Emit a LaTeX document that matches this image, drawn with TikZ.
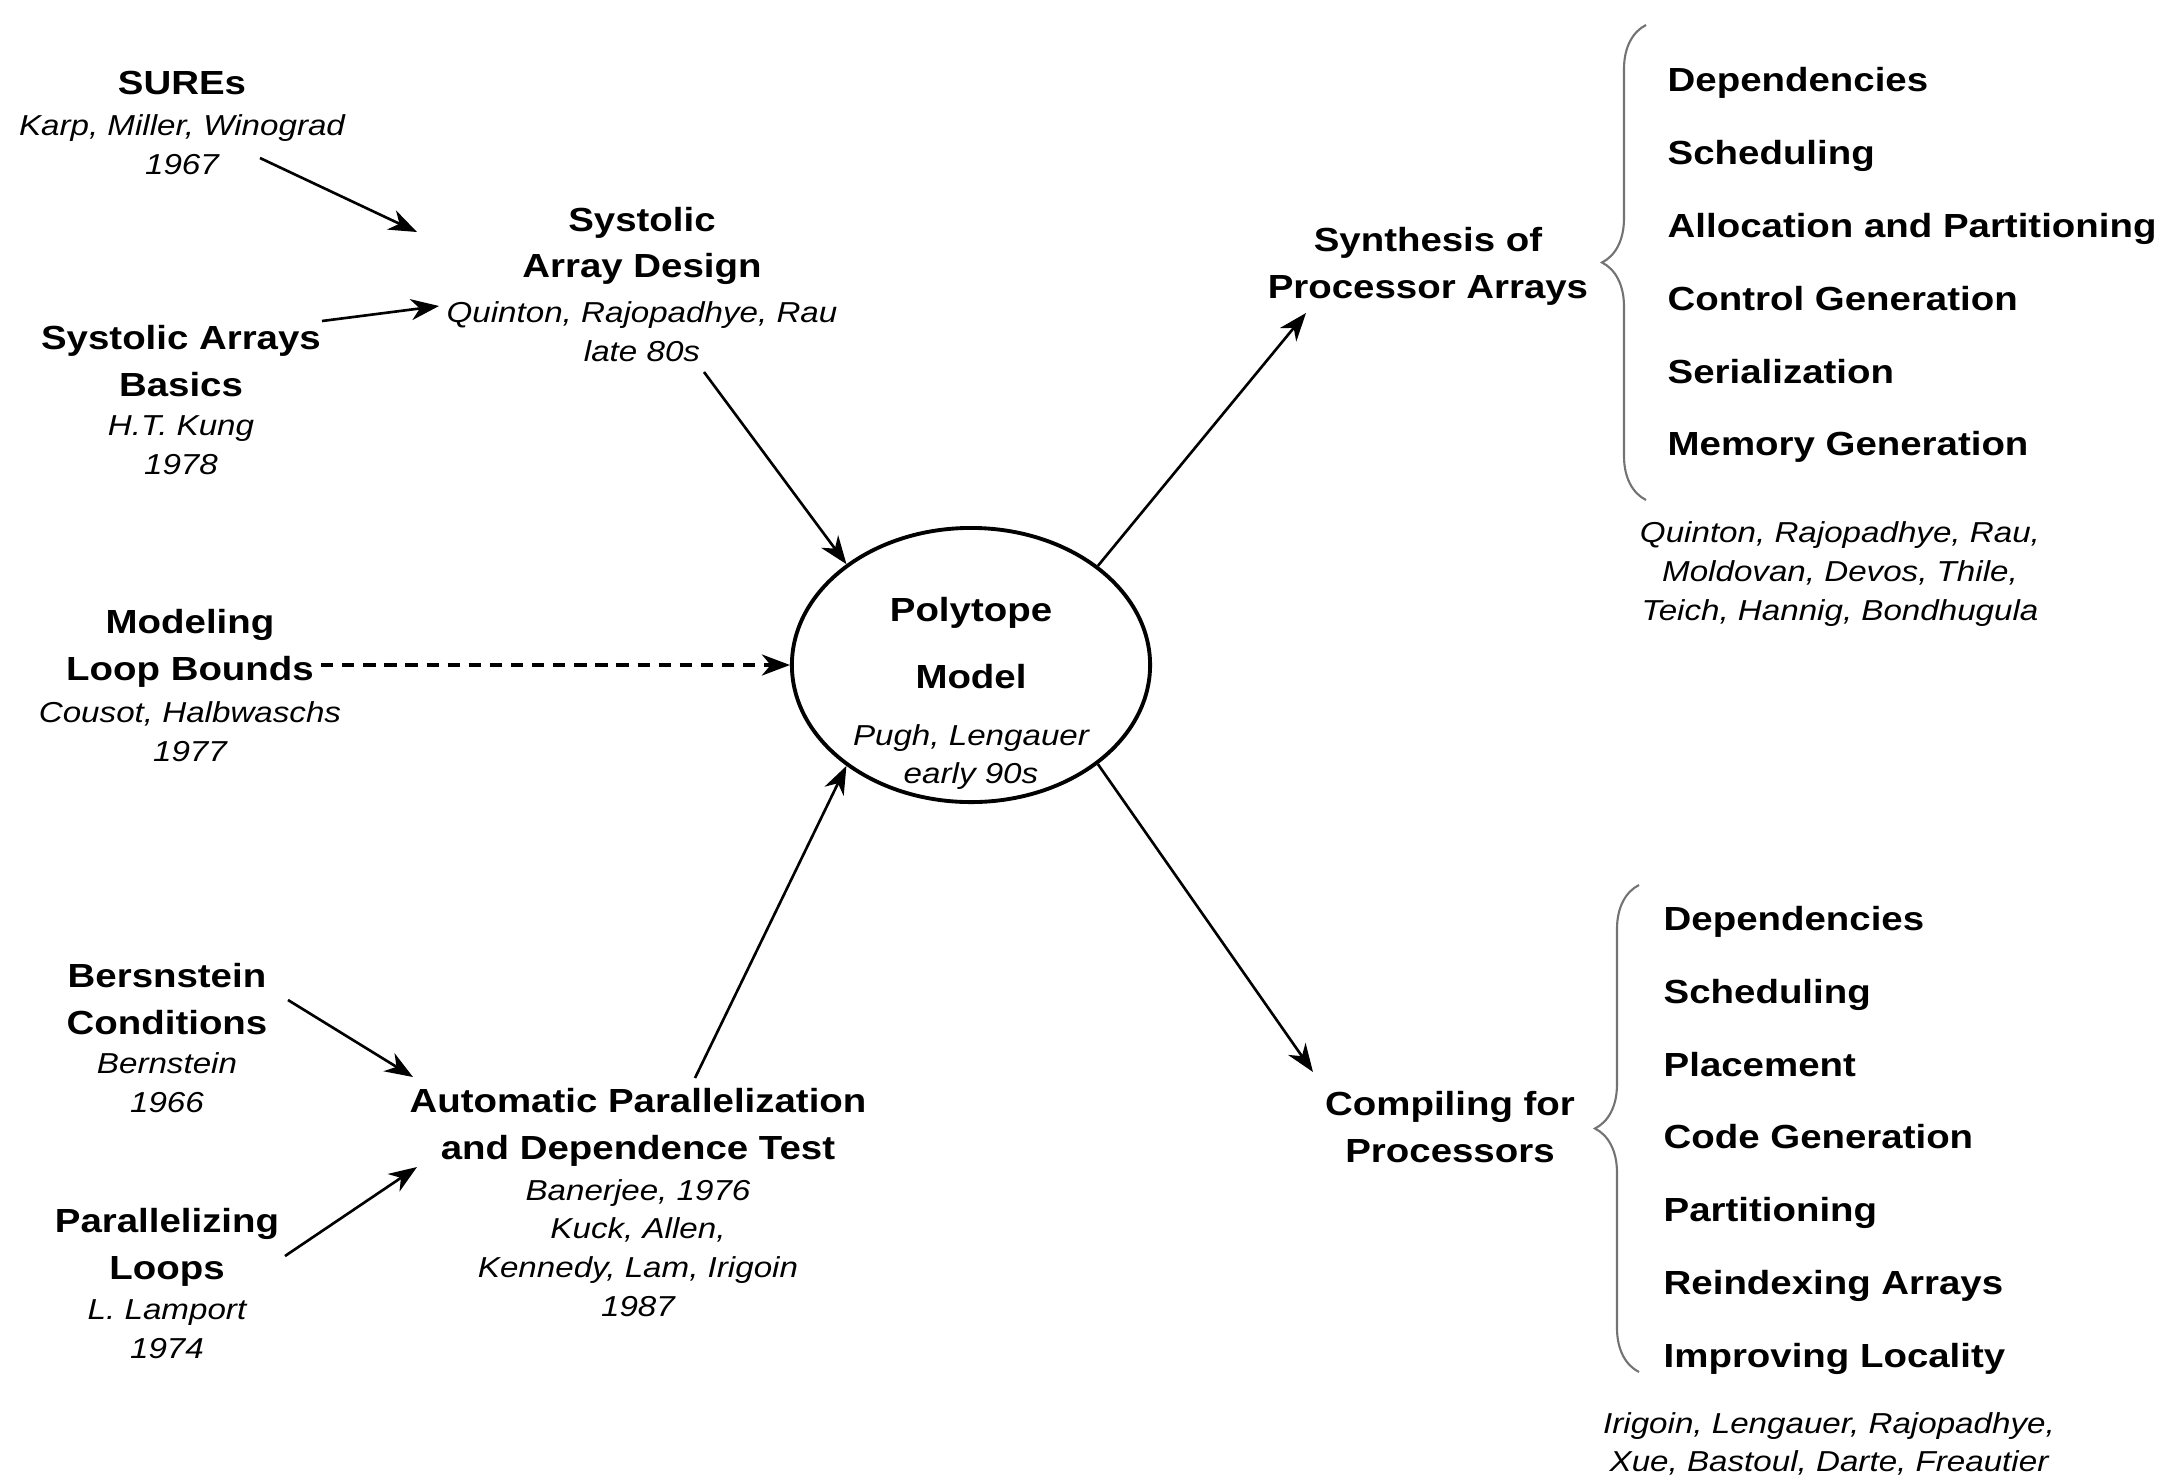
\documentclass[tikz,border=0pt]{standalone}
\usepackage{fontspec}
\setmainfont{Liberation Sans}[FakeStretch=1.15]
\usetikzlibrary{shapes.geometric, arrows.meta, decorations.pathreplacing, calc}

\begin{document}
\begin{tikzpicture}[
    x=0.01cm, y=-0.01cm,
    topic/.style={align=center, inner sep=0pt, font=\fontsize{9.5}{13.3}\selectfont\bfseries},
    who/.style={align=center, inner sep=0pt, font=\fontsize{8.2}{11}\selectfont\itshape},
    listitem/.style={anchor=west, inner sep=0pt, text height=7pt, text depth=2pt, font=\fontsize{9.5}{13.3}\selectfont\bfseries},
    link/.style={-{Stealth[length=8pt, width=6pt, inset=2.5pt]}, line width=0.75pt},
    curly/.style={decorate, decoration={brace, amplitude=0.44cm}, line width=0.6pt, black!55}
]
\useasboundingbox (0,0) rectangle (2178,1481);

\node[topic] (sures) at (182,83) {SUREs};
\node[who] (sures-who) at (182,145) {Karp, Miller, Winograd\\1967};
\node[topic] (sad) at (642,246) {Systolic\\Array Design};
\node[who] (sad-who) at (642,332) {Quinton, Rajopadhye, Rau\\late 80s};
\node[topic] (sab) at (181,361) {Systolic Arrays\\Basics};
\node[who] (sab-who) at (181,445) {H.T. Kung\\1978};
\node[topic] (mlb) at (190,648) {Modeling\\Loop Bounds};
\node[who] (mlb-who) at (190,732) {Cousot, Halbwaschs\\1977};
\node[topic] (bc) at (167,999) {Bersnstein\\Conditions};
\node[who] (bc-who) at (167,1083) {Bernstein\\1966};
\node[topic] (pl) at (167,1247) {Parallelizing\\Loops};
\node[who] (pl-who) at (167,1329) {L. Lamport\\1974};
\node[topic] (apd) at (638,1127) {Automatic Parallelization\\and Dependence Test};
\node[who] (apd-who) at (638,1248) {Banerjee, 1976\\Kuck, Allen,\\Kennedy, Lam, Irigoin\\1987};

\node[ellipse, draw, line width=1.1pt, minimum width=3.58cm, minimum height=2.74cm, inner sep=0pt] (poly) at (971,665) {};
\node[topic] (poly-t) at (971,643) {Polytope\\[6pt]Model};
\node[who] (poly-who) at (971,757) {Pugh, Lengauer\\early 90s};

\node[topic] (syn) at (1428,266) {Synthesis of\\Processor Arrays};
\node[topic] (comp) at (1450,1127) {Compiling for\\Processors};

\foreach \t [count=\i from 0] in {Dependencies, Scheduling, Allocation and Partitioning, Control Generation, Serialization, Memory Generation}
    \node[listitem] (syn-\i) at (1667,{83+72.8*\i}) {\t};
\foreach \t [count=\i from 0] in {Dependencies, Scheduling, Placement, Code Generation, Partitioning, Reindexing Arrays, Improving Locality}
    \node[listitem] (comp-\i) at (1663,{922+72.7*\i}) {\t};

\node[who] (syn-who) at (1840,574) {Quinton, Rajopadhye, Rau,\\Moldovan, Devos, Thile,\\Teich, Hannig, Bondhugula};
\node[who] (comp-who) at (1829,1444) {Irigoin, Lengauer, Rajopadhye,\\Xue, Bastoul, Darte, Freautier};

\draw[curly] (1646,500) -- (1646,25);
\draw[curly] (1639,1372) -- (1639,885);

\draw[link] ($(sures-who)+(78,13)$) -- ($(sad)+(-225,-14)$);
\draw[link] ($(sab)+(141,-40)$) -- ($(sad-who)+(-203,-26)$);
\draw[link] ($(sad-who)+(62,40)$) -- (poly.141);
\draw[link, dash pattern=on 3.5pt off 2.5pt, line width=0.9pt] ($(mlb)+(131,17)$) -- (poly.west);
\draw[link] ($(bc)+(121,1)$) -- ($(apd)+(-225,-50)$);
\draw[link] ($(pl)+(118,9)$) -- ($(apd)+(-221,40)$);
\draw[link] ($(apd)+(57,-49)$) -- (poly.219);
\draw[link] (poly.38) -- ($(syn)+(-122,47)$);
\draw[link] (poly.-38) -- ($(comp)+(-137,-55)$);
\end{tikzpicture}
\end{document}
